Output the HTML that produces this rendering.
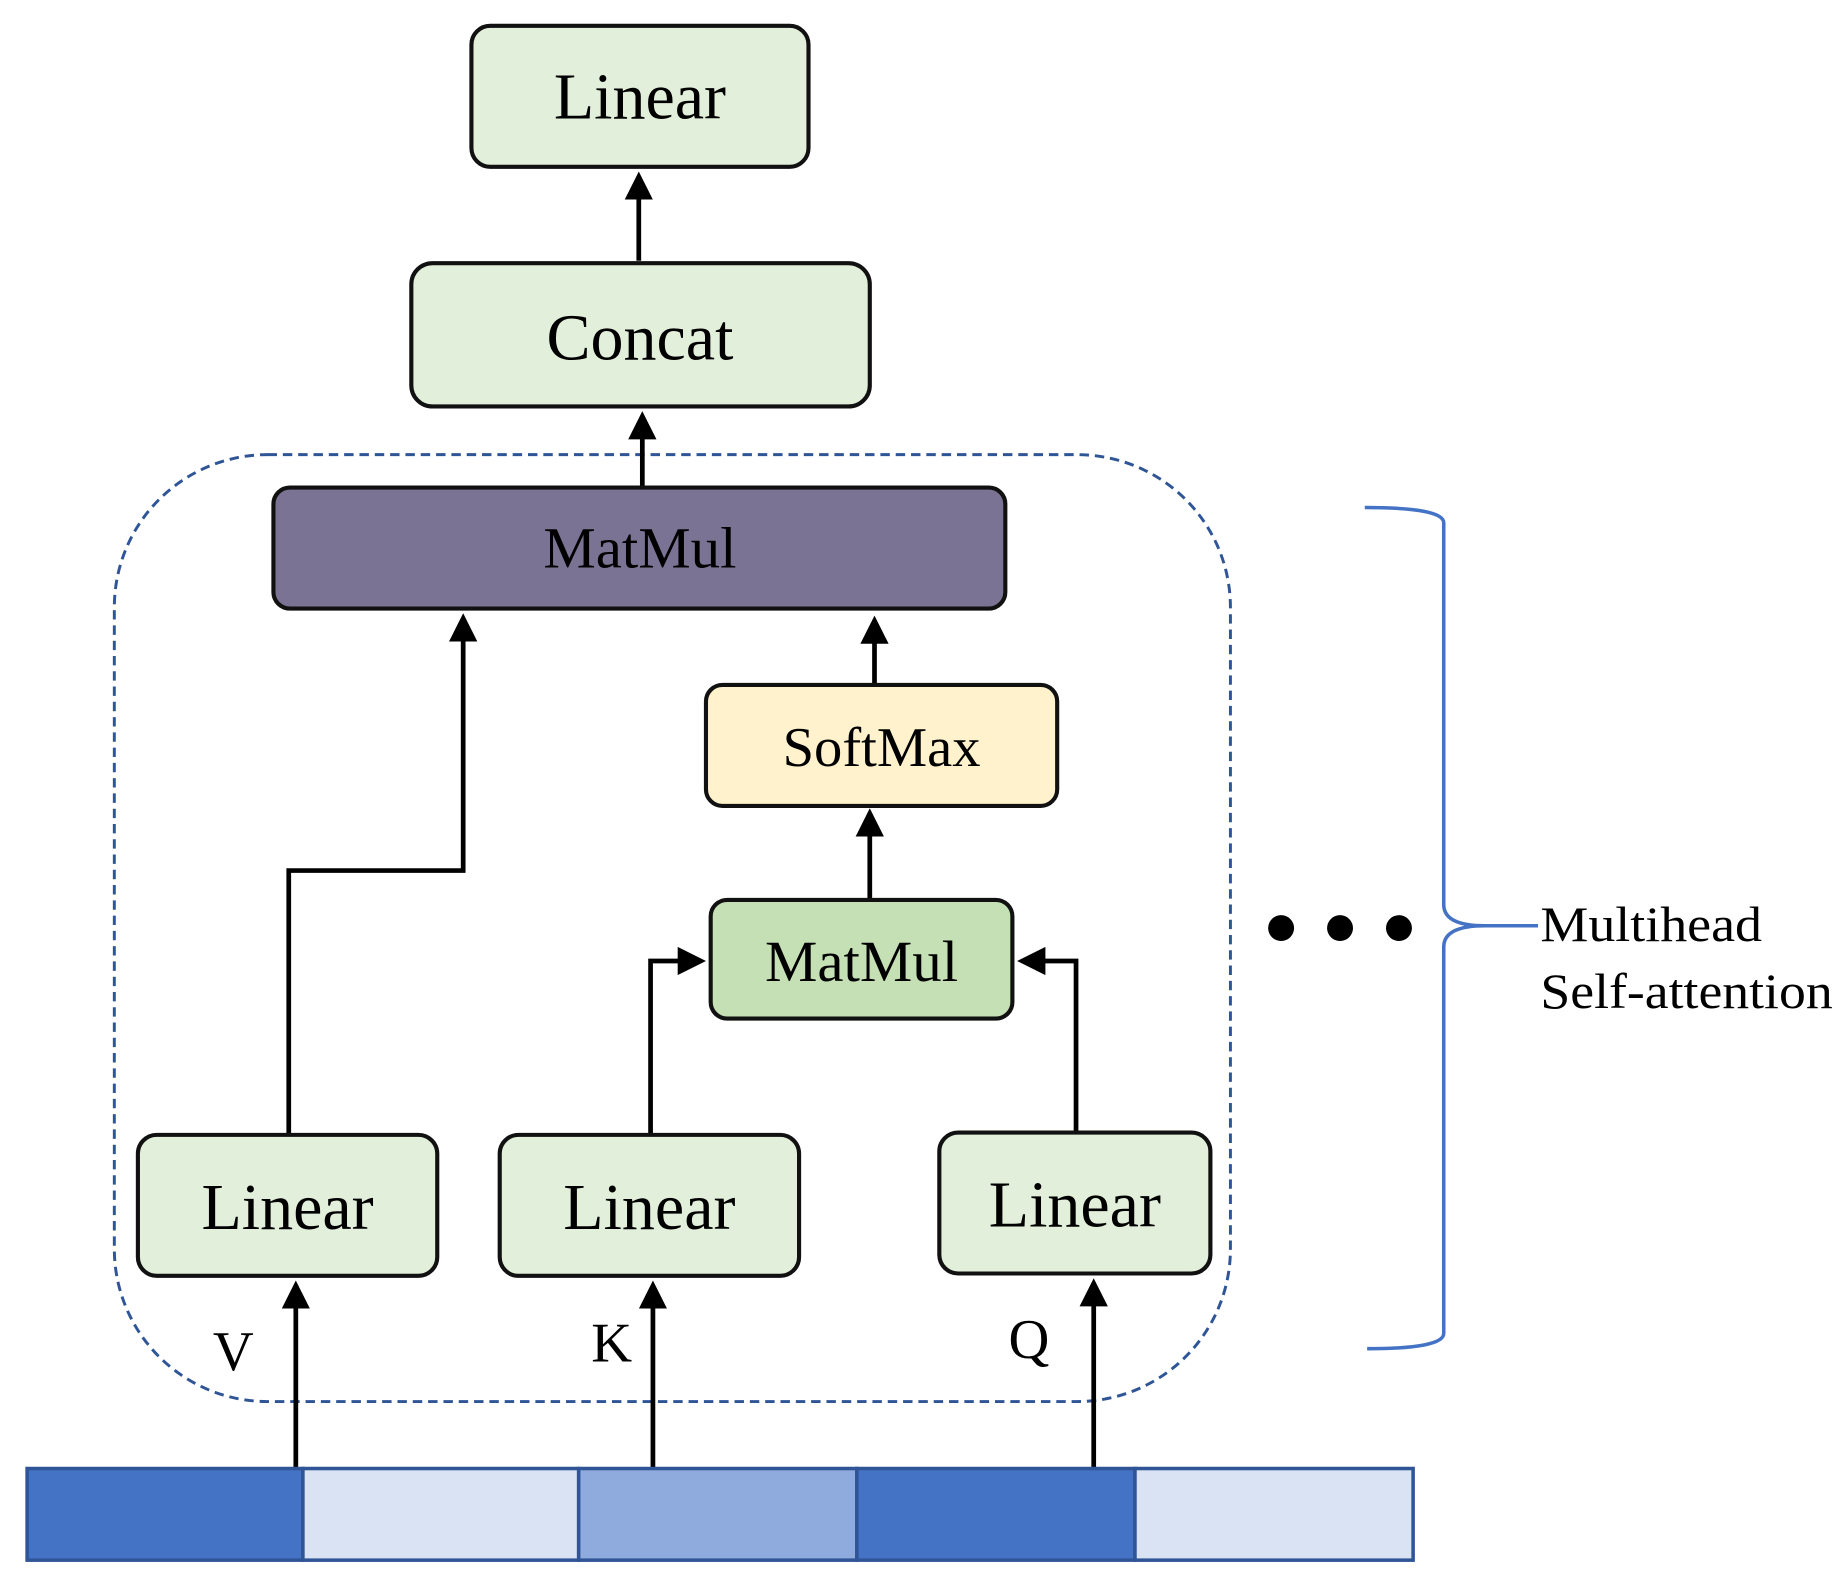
<!DOCTYPE html>
<html><head><style>html,body{margin:0;padding:0;background:#fff}svg{display:block}</style></head>
<body>
<svg width="1848" height="1586" viewBox="0 0 1568 1350" preserveAspectRatio="none" xmlns="http://www.w3.org/2000/svg" font-family="Liberation Serif, serif">
<defs><marker id="a" markerWidth="6" markerHeight="6" refX="5" refY="3" orient="auto" markerUnits="strokeWidth"><path d="M0,0 L6,3 L0,6 z" fill="#000"/></marker></defs>
<rect x="97" y="387" width="947" height="806" rx="130" fill="none" stroke="#2f5597" stroke-width="2.5" stroke-dasharray="8,5"/>
<g stroke="#000" stroke-width="4" fill="none" marker-end="url(#a)">
<path d="M542 222 V150"/>
<path d="M545 414 V354"/>
<path d="M245 966 V741 H393 V526"/>
<path d="M742 582 V528"/>
<path d="M738 766 V692"/>
<path d="M552 966 V818 H595"/>
<path d="M913 964 V818 H867"/>
<path d="M251 1250 V1094"/>
<path d="M554 1250 V1094"/>
<path d="M928 1250 V1092"/>
</g>
<g stroke="#111" stroke-width="3.5">
<rect x="400" y="22" width="286" height="120" rx="16" fill="#e2efda"/>
<rect x="349" y="224" width="389" height="122" rx="18" fill="#e2efda"/>
<rect x="232" y="415" width="621" height="103" rx="14" fill="#7b7393"/>
<rect x="599" y="583" width="298" height="103" rx="14" fill="#fff2cc"/>
<rect x="603" y="766" width="256" height="101" rx="14" fill="#c5e0b4"/>
<rect x="117" y="966" width="254" height="120" rx="16" fill="#e2efda"/>
<rect x="424" y="966" width="254" height="120" rx="16" fill="#e2efda"/>
<rect x="797" y="964" width="230" height="120" rx="16" fill="#e2efda"/>
</g>
<g text-anchor="middle" fill="#000">
<text x="543" y="101" font-size="56">Linear</text>
<text x="543" y="306" font-size="56">Concat</text>
<text x="543" y="483" font-size="50">MatMul</text>
<text x="748" y="652" font-size="48">SoftMax</text>
<text x="731" y="835" font-size="50">MatMul</text>
<text x="244" y="1046" font-size="56">Linear</text>
<text x="551" y="1046" font-size="56">Linear</text>
<text x="912" y="1044" font-size="56">Linear</text>
<text x="198" y="1166" font-size="48">V</text>
<text x="519" y="1159" font-size="48">K</text>
<text x="873" y="1156" font-size="48">Q</text>
</g>
<g stroke="#2f5597" stroke-width="3">
<rect x="23" y="1250" width="234" height="78" fill="#4472c4"/>
<rect x="257" y="1250" width="234" height="78" fill="#dae3f3"/>
<rect x="491" y="1250" width="236" height="78" fill="#8faadc"/>
<rect x="727" y="1250" width="236" height="78" fill="#4472c4"/>
<rect x="963" y="1250" width="236" height="78" fill="#dae3f3"/>
</g>
<circle cx="1087" cy="790" r="11" fill="#000"/>
<circle cx="1137" cy="790" r="11" fill="#000"/>
<circle cx="1187" cy="790" r="11" fill="#000"/>
<path d="M1158 432 Q1225 432 1225 445 V770 Q1225 788 1260 788 H1305 M1260 788 Q1225 788 1225 806 V1135 Q1225 1148 1160 1148" fill="none" stroke="#4472c4" stroke-width="3"/>
<text x="1307" y="801" font-size="42" textLength="188" lengthAdjust="spacingAndGlyphs">Multihead</text>
<text x="1307" y="858" font-size="42" textLength="248" lengthAdjust="spacingAndGlyphs">Self-attention</text>
</svg>
</body></html>
